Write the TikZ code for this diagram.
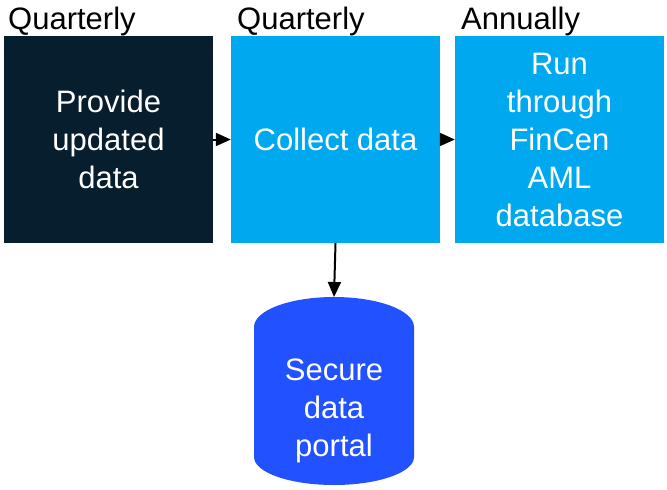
\documentclass[tikz,border=0pt]{standalone}
\usepackage{fontspec}
\setmainfont{Liberation Sans}
\usetikzlibrary{arrows.meta}
\definecolor{navy}{HTML}{061E2D}
\definecolor{skyblue}{HTML}{00A9EF}
\definecolor{portalblue}{HTML}{2251FF}
\tikzset{
  stepbox/.style={draw=none, minimum width=209pt, minimum height=207pt, inner sep=0pt,
    text=white, align=center, font=\fontsize{31pt}{38pt}\selectfont},
  freq/.style={anchor=base west, inner sep=0pt, font=\fontsize{31pt}{38pt}\selectfont},
  flow/.style={line width=2pt, -{Triangle[length=15pt,width=13pt]}}
}
\begin{document}
\begin{tikzpicture}[x=1pt,y=-1pt]
\useasboundingbox (0,0) rectangle (667,490);
% process steps
\node[stepbox, fill=navy] (provide) at (108.5,139.5) {Provide\\updated\\data};
\node[stepbox, fill=skyblue] (collect) at (335.5,139.5) {Collect data};
\node[stepbox, fill=skyblue] (run) at (559.5,139.5) {Run\\through\\FinCen\\AML\\database};
% frequency labels
\node[freq] (f1) at (8,29) {Quarterly};
\node[freq] (f2) at (237,29) {Quarterly};
\node[freq] (f3) at (461,29) {Annually};
% storage cylinder
\fill[portalblue] (254,327) -- (254,457) arc[start angle=180, end angle=0, x radius=80, y radius=28]
  -- (414,327) arc[start angle=0, end angle=-180, x radius=80, y radius=30] -- cycle;
\node[text=white, align=center, font=\fontsize{31pt}{38pt}\selectfont] (portal) at (334,411) {Secure\\data\\portal};
\coordinate (portaltop) at (334,297);
% connectors
\draw[flow] (provide.east) -- (collect.west);
\draw[flow] (collect.east) -- (run.west);
\draw[flow] (collect.south) -- (portaltop);
\end{tikzpicture}
\end{document}
